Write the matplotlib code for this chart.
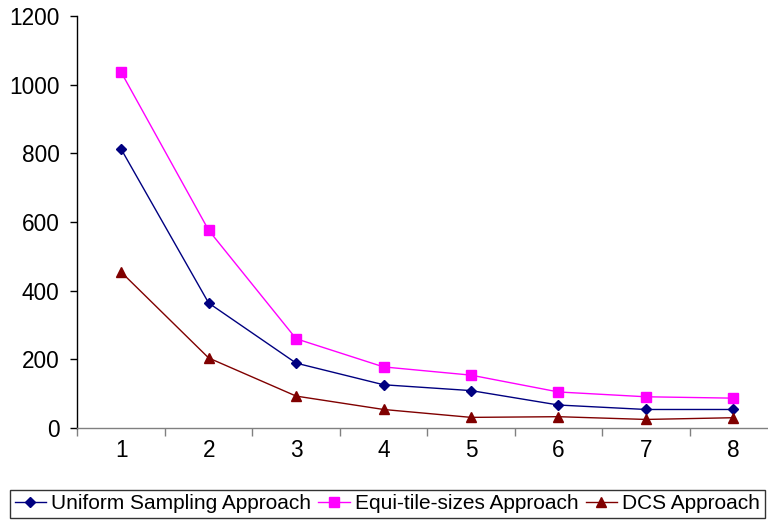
import matplotlib
matplotlib.use("Agg")
import matplotlib.pyplot as plt
from matplotlib.ticker import FixedLocator

# Data
x_vals = [1, 2, 3, 4, 5, 6, 7, 8]
uniform = [812, 364, 189, 126, 109, 67, 54, 54]
equi_tile = [1036, 576, 260, 178, 154, 105, 91, 87]
dcs = [454, 204, 93, 54, 31, 33, 25, 30]

NAVY = "#000080"
MAGENTA = "#FF00FF"
DARKRED = "#800000"

plt.rcParams["font.family"] = ["Liberation Sans", "DejaVu Sans"]

fig = plt.figure(figsize=(7.68, 5.23), dpi=100)
ax = fig.add_axes([0.1009, 0.1816, 0.911, 0.7878])

ax.plot(x_vals, uniform, color=NAVY, lw=1.0, marker="D", ms=5.5,
        label="Uniform Sampling Approach")
ax.plot(x_vals, equi_tile, color=MAGENTA, lw=1.0, marker="s", ms=7,
        label="Equi-tile-sizes Approach")
ax.plot(x_vals, dcs, color=DARKRED, lw=1.0, marker="^", ms=7.5,
        label="DCS Approach")

ax.set_xlim(0.5, 8.5)
ax.set_ylim(0, 1200)
ax.set_yticks(range(0, 1201, 200))

# category labels centred, tick marks on the boundaries
ax.set_xticks(x_vals)
ax.xaxis.set_minor_locator(FixedLocator([k + 0.5 for k in range(0, 9)]))
ax.tick_params(axis="x", which="major", length=0, pad=8, labelsize=16.3)
ax.tick_params(axis="x", which="minor", length=6, width=1, color="#808080", direction="out")
ax.tick_params(axis="y", length=5, width=1, color="black", labelsize=16.3, pad=8)

for side in ("top", "right"):
    ax.spines[side].set_visible(False)
ax.spines["left"].set_color("black")
ax.spines["bottom"].set_color("#808080")
ax.spines["left"].set_linewidth(1.0)
ax.spines["bottom"].set_linewidth(1.0)

leg = fig.legend(loc="lower left", bbox_to_anchor=(0.013, 0.01), ncol=3,
                 fontsize=15.0, frameon=True, fancybox=False, edgecolor="black",
                 handlelength=1.5, handletextpad=0.25, columnspacing=0.35,
                 borderpad=0.22, borderaxespad=0)
leg.get_frame().set_linewidth(1.0)

fig.savefig("out.png", dpi=100, facecolor="white")
plt.close(fig)
